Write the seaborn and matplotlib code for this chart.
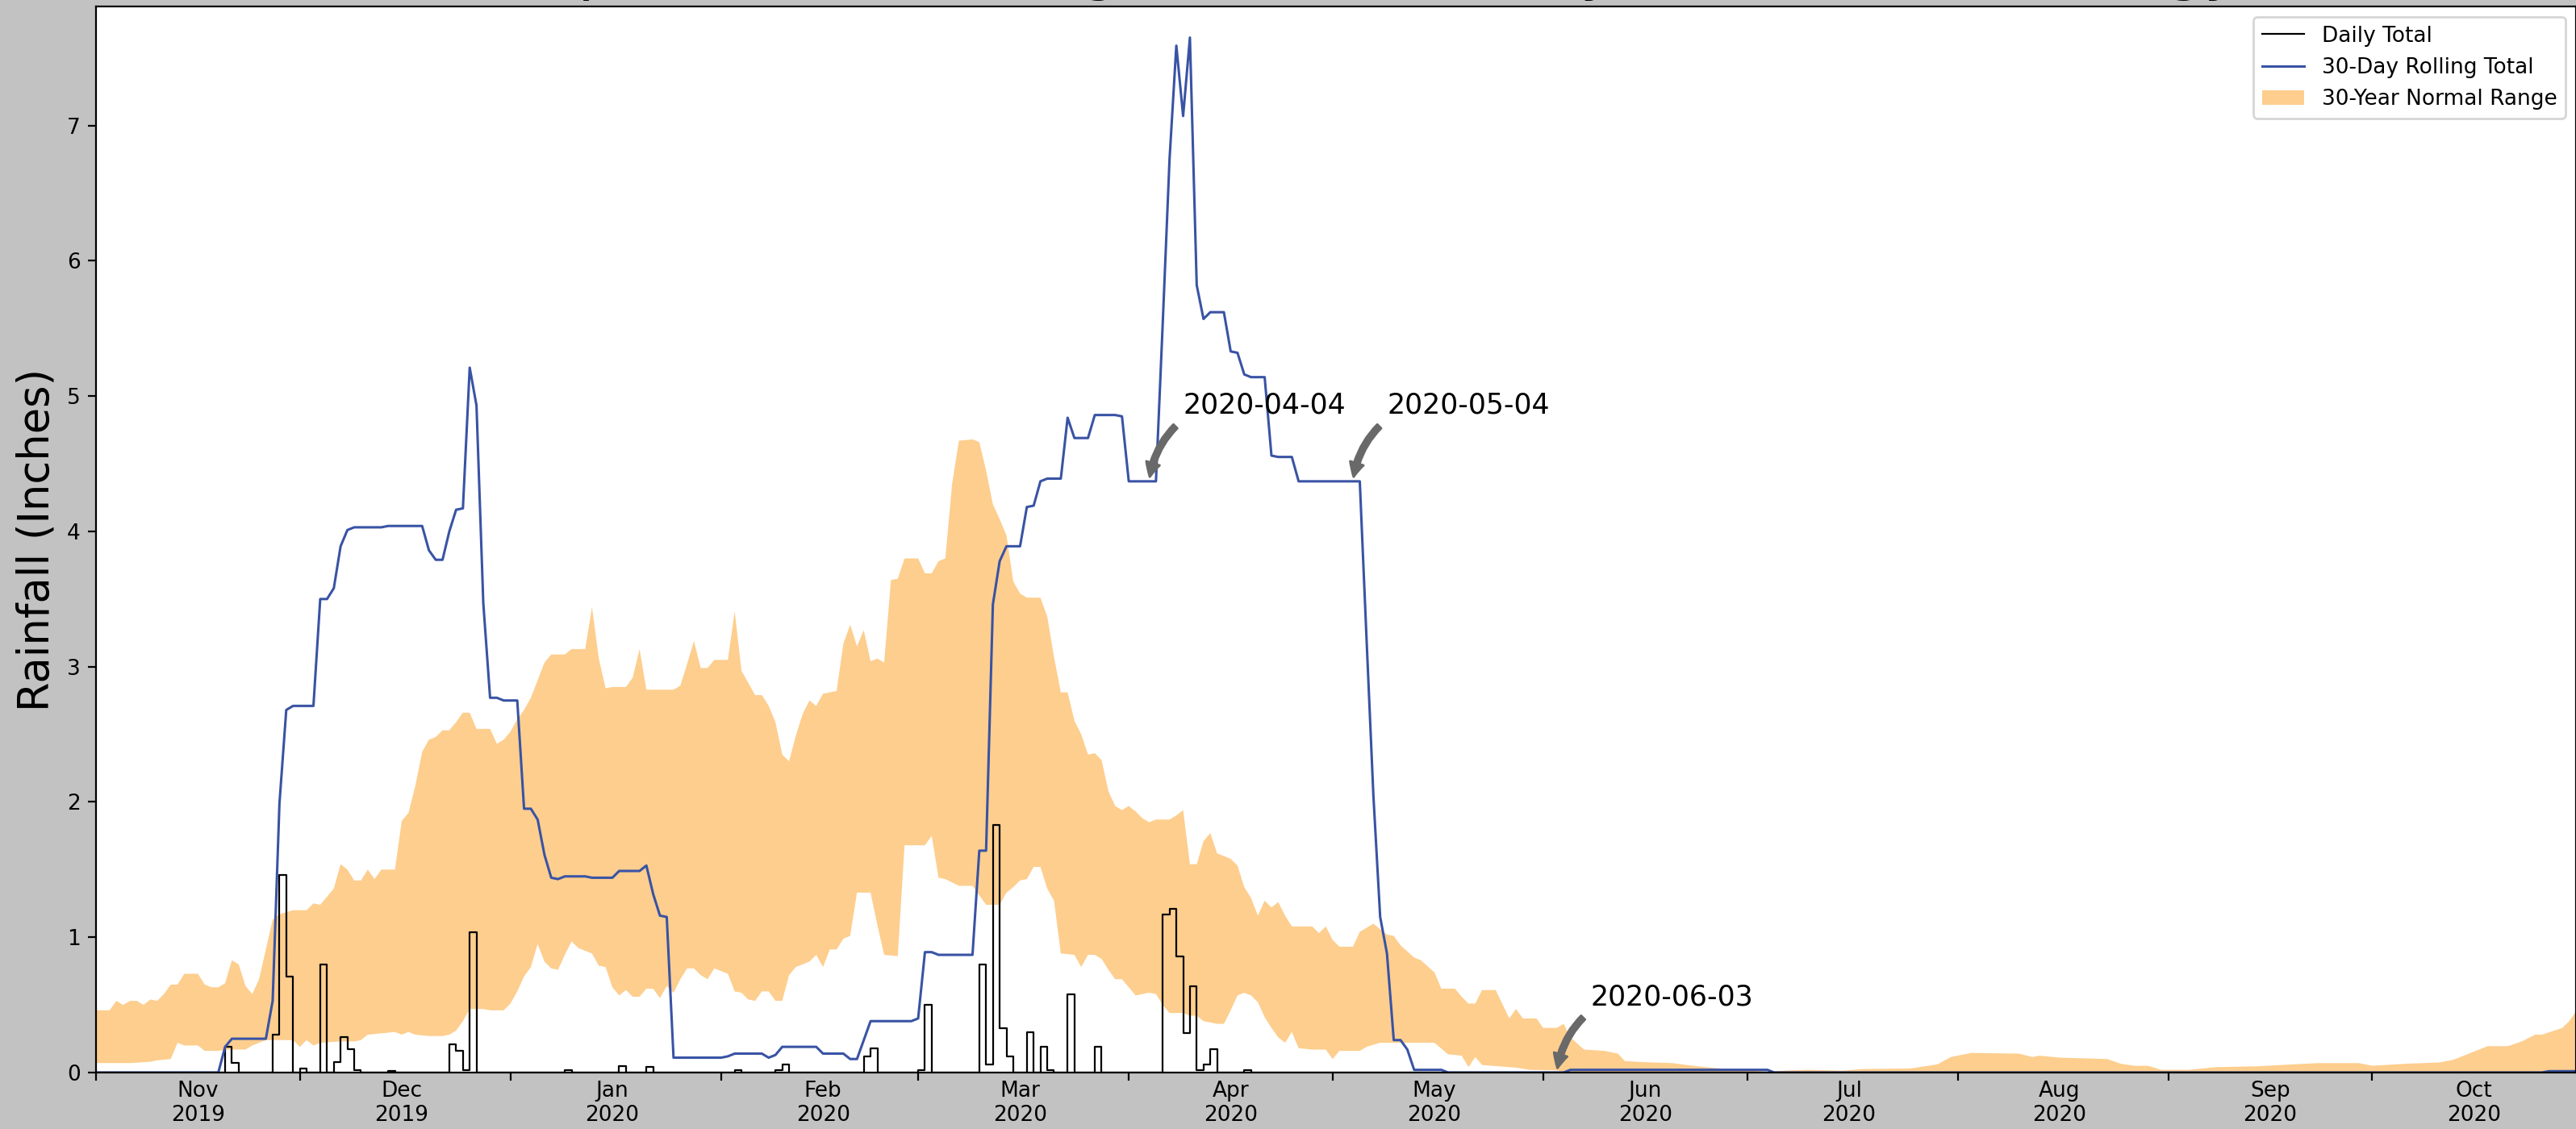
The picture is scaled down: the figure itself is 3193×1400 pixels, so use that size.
import numpy as np
import pandas as pd
import matplotlib
matplotlib.use("Agg")
import matplotlib.pyplot as plt
import matplotlib.dates as mdates
import matplotlib.ticker as mticker
import seaborn as sns

start = pd.Timestamp("2019-11-01")
end = pd.Timestamp("2020-10-31")

# daily rainfall (days after 2019-11-01, inches); every other day was dry
rain_days = [19, 20, 26, 27, 28, 30, 33, 35, 36, 37,
             38, 43, 52, 53, 54, 55, 69, 77, 81, 94,
             100, 101, 113, 114, 121, 122, 130, 131, 132, 133,
             134, 137, 139, 140, 143, 147, 157, 158, 159, 160,
             161, 162, 163, 164, 169]
rain_vals = [0.19, 0.07, 0.28, 1.46, 0.71, 0.03, 0.80, 0.08, 0.26, 0.17,
             0.02, 0.01, 0.21, 0.16, 0.02, 1.04, 0.02, 0.05, 0.04, 0.02,
             0.02, 0.06, 0.12, 0.18, 0.02, 0.50, 0.80, 0.06, 1.83, 0.33,
             0.12, 0.30, 0.19, 0.02, 0.58, 0.19, 1.17, 1.21, 0.86, 0.29,
             0.64, 0.02, 0.06, 0.17, 0.02]

# 30-day rolling total, read where the line changes
roll_days = [0, 18, 19, 20, 25, 26, 27, 28, 29, 32,
             33, 34, 35, 36, 37, 38, 42, 43, 48, 49,
             50, 51, 52, 53, 54, 55, 56, 57, 58, 59,
             60, 62, 63, 64, 65, 66, 67, 68, 69, 72,
             73, 76, 77, 80, 81, 82, 83, 84, 85, 92,
             93, 94, 98, 99, 100, 101, 106, 107, 110, 111,
             112, 113, 114, 120, 121, 122, 123, 124, 129, 130,
             131, 132, 133, 134, 136, 137, 138, 139, 140, 142,
             143, 144, 146, 147, 150, 151, 152, 156, 157, 158,
             159, 160, 161, 162, 163, 164, 166, 167, 168, 169,
             170, 172, 173, 174, 176, 177, 186, 187, 188, 189,
             190, 191, 192, 193, 194, 198, 199, 216, 217, 246,
             247, 360, 361, 365]
roll_vals = [0.0, 0.0, 0.19, 0.25, 0.25, 0.53, 1.99, 2.68, 2.71, 2.71,
             3.50, 3.50, 3.58, 3.89, 4.01, 4.03, 4.03, 4.04, 4.04, 3.86,
             3.79, 3.79, 4.00, 4.16, 4.17, 5.21, 4.93, 3.47, 2.77, 2.77,
             2.75, 2.75, 1.95, 1.95, 1.87, 1.61, 1.44, 1.43, 1.45, 1.45,
             1.44, 1.44, 1.49, 1.49, 1.53, 1.32, 1.16, 1.15, 0.11, 0.11,
             0.12, 0.14, 0.14, 0.11, 0.13, 0.19, 0.19, 0.14, 0.14, 0.10,
             0.10, 0.24, 0.38, 0.38, 0.40, 0.89, 0.89, 0.87, 0.87, 1.64,
             1.64, 3.46, 3.78, 3.89, 3.89, 4.18, 4.19, 4.37, 4.39, 4.39,
             4.84, 4.69, 4.69, 4.86, 4.86, 4.85, 4.37, 4.37, 5.54, 6.75,
             7.59, 7.07, 7.65, 5.82, 5.57, 5.62, 5.62, 5.33, 5.32, 5.16,
             5.14, 5.14, 4.56, 4.55, 4.55, 4.37, 4.37, 3.20, 2.05, 1.15,
             0.88, 0.24, 0.24, 0.17, 0.02, 0.02, 0.0, 0.0, 0.02, 0.02,
             0.0, 0.0, 0.01, 0.01]

# 30-year normal range: upper edge
upper_days = [0, 2, 3, 4, 5, 6, 7, 8, 9, 10,
              11, 12, 13, 15, 16, 17, 18, 19, 20, 21,
              22, 23, 24, 25, 26, 27, 29, 31, 32, 33,
              34, 35, 36, 37, 38, 39, 40, 41, 42, 44,
              45, 46, 47, 48, 49, 50, 51, 52, 53, 54,
              55, 56, 58, 59, 60, 61, 62, 63, 64, 65,
              66, 67, 69, 70, 72, 73, 74, 75, 76, 78,
              79, 80, 81, 85, 86, 87, 88, 89, 90, 91,
              93, 94, 95, 96, 97, 98, 99, 100, 101, 102,
              103, 104, 105, 106, 107, 109, 110, 111, 112, 113,
              114, 115, 116, 117, 118, 119, 121, 122, 123, 124,
              125, 126, 127, 129, 130, 131, 132, 133, 134, 135,
              136, 137, 139, 140, 141, 142, 143, 144, 145, 146,
              147, 148, 149, 150, 151, 152, 153, 154, 155, 156,
              158, 159, 160, 161, 162, 163, 164, 165, 167, 168,
              169, 170, 171, 172, 173, 174, 175, 176, 177, 179,
              180, 181, 182, 183, 185, 186, 188, 190, 191, 192,
              194, 195, 197, 198, 200, 201, 202, 203, 204, 206,
              208, 209, 210, 212, 213, 215, 216, 217, 219, 222,
              224, 225, 228, 232, 235, 239, 246, 249, 252, 257,
              260, 267, 271, 273, 276, 283, 285, 286, 289, 296,
              298, 300, 302, 304, 308, 312, 318, 327, 333, 335,
              340, 345, 347, 349, 352, 355, 357, 359, 360, 363,
              364, 365]
upper_vals = [0.46, 0.46, 0.53, 0.50, 0.53, 0.53, 0.50, 0.54, 0.53, 0.58,
              0.65, 0.65, 0.73, 0.73, 0.65, 0.63, 0.63, 0.66, 0.83, 0.80,
              0.64, 0.58, 0.69, 0.91, 1.13, 1.17, 1.20, 1.20, 1.25, 1.24,
              1.30, 1.36, 1.54, 1.50, 1.42, 1.42, 1.50, 1.43, 1.50, 1.50,
              1.86, 1.92, 2.12, 2.37, 2.46, 2.48, 2.53, 2.53, 2.59, 2.66,
              2.66, 2.54, 2.54, 2.43, 2.46, 2.52, 2.61, 2.68, 2.77, 2.90,
              3.03, 3.09, 3.09, 3.13, 3.13, 3.44, 3.06, 2.84, 2.85, 2.85,
              2.92, 3.13, 2.83, 2.83, 2.86, 3.02, 3.19, 2.99, 2.99, 3.05,
              3.05, 3.41, 2.97, 2.88, 2.79, 2.79, 2.71, 2.59, 2.35, 2.30,
              2.49, 2.65, 2.75, 2.71, 2.80, 2.82, 3.17, 3.31, 3.15, 3.27,
              3.04, 3.06, 3.03, 3.64, 3.65, 3.80, 3.80, 3.69, 3.69, 3.78,
              3.80, 4.35, 4.67, 4.68, 4.66, 4.45, 4.20, 4.09, 3.97, 3.63,
              3.54, 3.51, 3.51, 3.37, 3.07, 2.81, 2.81, 2.60, 2.50, 2.35,
              2.36, 2.31, 2.08, 1.97, 1.94, 1.97, 1.93, 1.88, 1.85, 1.87,
              1.87, 1.90, 1.94, 1.54, 1.54, 1.71, 1.77, 1.62, 1.58, 1.53,
              1.37, 1.29, 1.16, 1.27, 1.22, 1.26, 1.16, 1.08, 1.08, 1.08,
              1.03, 1.08, 0.98, 0.93, 0.93, 1.04, 1.10, 1.02, 1.01, 0.94,
              0.85, 0.83, 0.74, 0.62, 0.62, 0.56, 0.51, 0.51, 0.61, 0.61,
              0.40, 0.47, 0.40, 0.40, 0.33, 0.33, 0.36, 0.26, 0.17, 0.16,
              0.14, 0.085, 0.076, 0.07, 0.05, 0.03, 0.006, 0.016, 0.02, 0.014,
              0.026, 0.03, 0.06, 0.115, 0.145, 0.14, 0.115, 0.125, 0.11, 0.10,
              0.065, 0.05, 0.05, 0.02, 0.02, 0.04, 0.046, 0.07, 0.07, 0.05,
              0.065, 0.075, 0.095, 0.135, 0.195, 0.195, 0.23, 0.28, 0.28, 0.33,
              0.38, 0.45]

# 30-year normal range: lower edge
lower_days = [0, 5, 8, 9, 11, 12, 13, 15, 16, 18,
              19, 22, 23, 25, 29, 30, 31, 32, 33, 36,
              38, 39, 40, 42, 44, 45, 46, 47, 49, 51,
              52, 53, 54, 55, 57, 58, 60, 61, 62, 63,
              64, 65, 66, 67, 68, 69, 70, 71, 73, 74,
              75, 76, 77, 78, 79, 80, 81, 82, 83, 84,
              85, 86, 87, 88, 89, 90, 91, 93, 94, 95,
              96, 97, 98, 99, 100, 101, 102, 103, 105, 106,
              107, 108, 109, 110, 111, 112, 114, 115, 116, 118,
              119, 122, 123, 124, 125, 127, 129, 130, 131, 133,
              134, 135, 136, 137, 138, 139, 140, 141, 142, 144,
              145, 146, 147, 148, 149, 150, 151, 152, 153, 155,
              156, 157, 158, 160, 161, 162, 163, 164, 165, 166,
              167, 168, 169, 170, 171, 172, 173, 174, 175, 176,
              177, 179, 181, 182, 183, 186, 187, 189, 197, 199,
              201, 202, 203, 204, 209, 211, 215, 216, 217, 365]
lower_vals = [0.07, 0.07, 0.08, 0.09, 0.10, 0.22, 0.20, 0.20, 0.16, 0.16,
              0.17, 0.17, 0.20, 0.24, 0.24, 0.19, 0.24, 0.20, 0.22, 0.23,
              0.23, 0.24, 0.28, 0.29, 0.30, 0.28, 0.30, 0.28, 0.27, 0.27,
              0.28, 0.31, 0.38, 0.47, 0.47, 0.46, 0.46, 0.51, 0.60, 0.71,
              0.78, 0.95, 0.82, 0.77, 0.76, 0.87, 0.97, 0.92, 0.88, 0.79,
              0.78, 0.63, 0.57, 0.61, 0.56, 0.56, 0.62, 0.62, 0.55, 0.64,
              0.59, 0.69, 0.77, 0.77, 0.72, 0.69, 0.77, 0.73, 0.60, 0.59,
              0.54, 0.53, 0.60, 0.60, 0.53, 0.53, 0.72, 0.78, 0.82, 0.87,
              0.78, 0.91, 0.91, 0.99, 1.01, 1.33, 1.33, 1.09, 0.87, 0.86,
              1.68, 1.68, 1.75, 1.44, 1.43, 1.38, 1.38, 1.31, 1.24, 1.24,
              1.33, 1.37, 1.42, 1.43, 1.52, 1.52, 1.36, 1.27, 0.88, 0.87,
              0.78, 0.87, 0.87, 0.84, 0.76, 0.69, 0.69, 0.63, 0.57, 0.59,
              0.58, 0.50, 0.44, 0.44, 0.42, 0.42, 0.38, 0.37, 0.36, 0.36,
              0.46, 0.57, 0.59, 0.57, 0.52, 0.41, 0.33, 0.26, 0.22, 0.30,
              0.18, 0.17, 0.17, 0.10, 0.16, 0.16, 0.19, 0.22, 0.22, 0.135,
              0.125, 0.04, 0.115, 0.056, 0.036, 0.02, 0.016, 0.006, 0.0, 0.0]

notes = ["2020-04-04", "2020-05-04", "2020-06-03"]
note_vals = [4.37, 4.37, 0.0]

blue = "#3953a4"
band_color = "#fdce8e"


def to_dates(days):
    return start + pd.to_timedelta(days, unit="D")


all_days = pd.date_range(start, end, freq="D")
daily = pd.Series(0.0, index=all_days)
daily.iloc[rain_days] = rain_vals

fig = plt.figure(figsize=(15.965, 7.0), dpi=200, facecolor="#c2c2c2")
ax = fig.add_axes([119 / 3193, 0.05, 1 - 119 / 3193, 0.9443])
ax.set_facecolor("white")

sns.lineplot(x=daily.index, y=daily.values, ax=ax, drawstyle="steps-post",
             color="black", lw=0.8, label="Daily Total")
sns.lineplot(x=to_dates(roll_days), y=roll_vals, ax=ax, color=blue, lw=1.1,
             label="30-Day Rolling Total")

up_x = to_dates(upper_days).to_pydatetime()
lo_x = to_dates(lower_days).to_pydatetime()
band_x = mdates.date2num(np.concatenate([up_x, lo_x[::-1]]))
band_y = np.concatenate([upper_vals, lower_vals[::-1]])
ax.fill(band_x, band_y, color=band_color, lw=0, zorder=1,
        label="30-Year Normal Range")

for note, val in zip(notes, note_vals):
    d = pd.Timestamp(note)
    ax.annotate(note, xy=(mdates.date2num(d), val),
                xytext=(mdates.date2num(d + pd.Timedelta(days=5)), val + 0.5),
                fontsize=12.5,
                arrowprops=dict(arrowstyle="simple", color="dimgray",
                                connectionstyle="arc3,rad=0.2",
                                relpos=(0, 0), shrinkA=2, shrinkB=2))

ax.set_xlim(mdates.date2num(start), mdates.date2num(end))
ax.set_ylim(0, 7.88)
ax.xaxis.set_major_locator(mdates.MonthLocator())
ax.xaxis.set_major_formatter(mticker.NullFormatter())
ax.xaxis.set_minor_locator(mdates.MonthLocator(bymonthday=16))
ax.xaxis.set_minor_formatter(mdates.DateFormatter("%b\n%Y"))
ax.yaxis.set_major_locator(mticker.MultipleLocator(1))
ax.tick_params(which="major", length=3.5, width=0.8, labelsize=9.5)
ax.tick_params(axis="x", which="minor", length=0, labelsize=9.5, pad=3.5)
for s in ax.spines.values():
    s.set_color("black")
    s.set_linewidth(0.8)

ax.set_xlabel("")
ax.set_ylabel("Rainfall (Inches)", fontsize=19)
ax.set_title("Precipitation vs Rolling Totals and Daily Rainfall Climatology",
             fontsize=27, pad=8.1)
ax.legend(loc="upper right", fontsize=9.5)

fig.savefig("out.png", dpi=200, facecolor=fig.get_facecolor())
